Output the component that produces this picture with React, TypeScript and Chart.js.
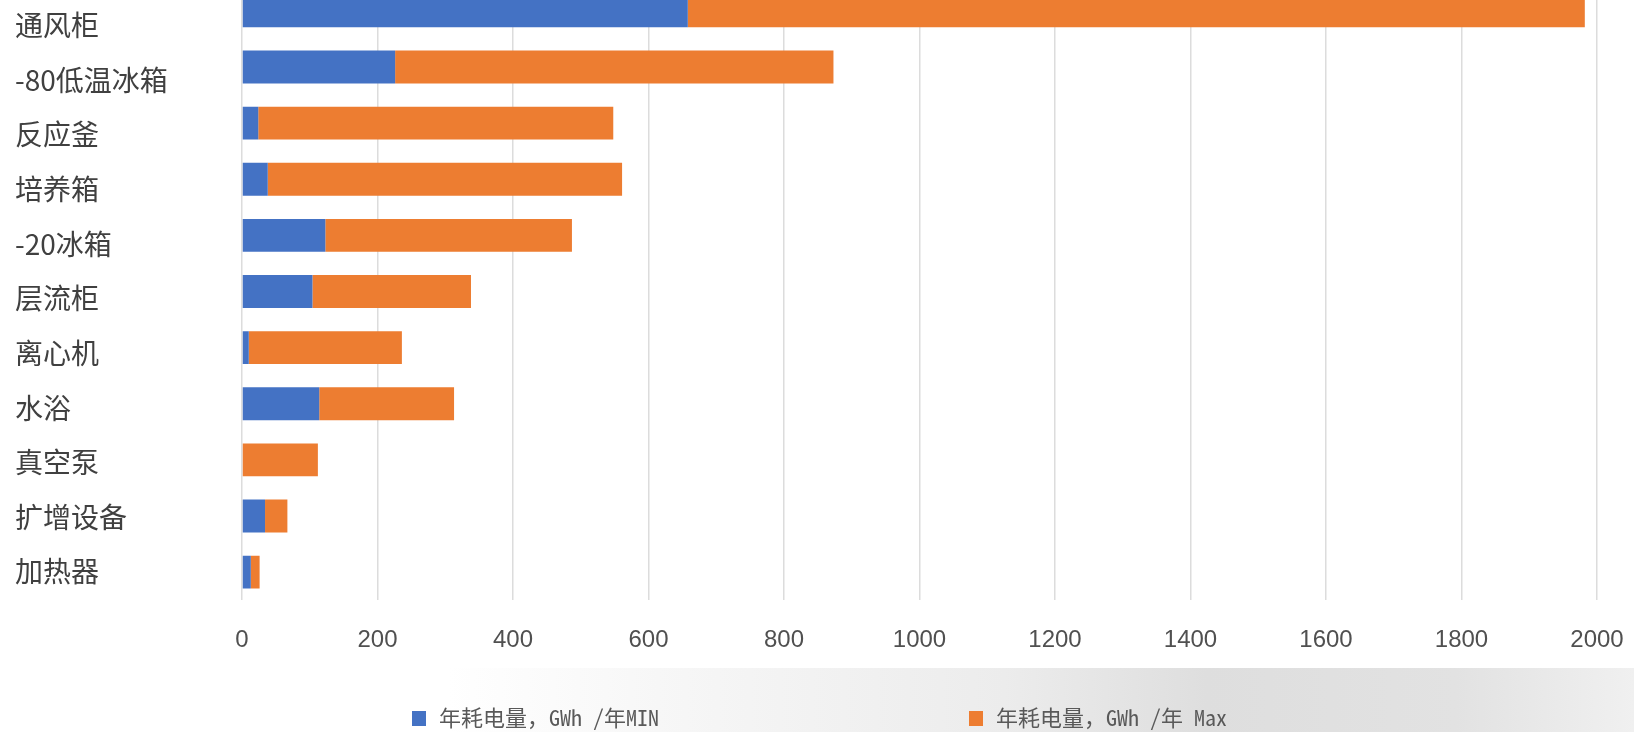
import React, { useEffect, useRef } from "react";
import { Chart, registerables } from "chart.js";

Chart.register(...registerables);

const categories = ["通风柜", "-80低温冰箱", "反应釜", "培养箱", "-20冰箱", "层流柜", "离心机", "水浴", "真空泵", "扩增设备", "加热器"];
const minValues = [658, 226, 24, 38, 123, 104, 10, 114, 0, 34, 13];
const maxValues = [1324, 647, 524, 523, 364, 234, 226, 199, 112, 33, 13];
const seriesLabels = ["年耗电量，GWh /年MIN", "年耗电量，GWh /年 Max"];
const seriesColors = ["#4472C4", "#ED7D31"];
const xMin = 0;
const xMax = 2000;
const xStep = 200;

const CANVAS_TOP = -34;
const CANVAS_HEIGHT = 791;

const legendPlugin = {
  id: "customLegend",
  afterDraw(chart: any) {
    const ctx = chart.ctx;
    const xs = [412, 969];
    const y = 718 - CANVAS_TOP;
    ctx.save();
    chart.data.datasets.forEach((ds: any, i: number) => {
      ctx.fillStyle = ds.backgroundColor;
      ctx.fillRect(xs[i], y - 7, 14, 15);
      ctx.fillStyle = "#595959";
      ctx.font = "22px 'Noto Sans Mono CJK SC', 'DejaVu Sans Mono', monospace";
      ctx.textBaseline = "middle";
      ctx.textAlign = "left";
      ctx.fillText(ds.label, xs[i] + 27, y);
    });
    ctx.restore();
  },
};

export default function App() {
  const ref = useRef<HTMLCanvasElement>(null);
  useEffect(() => {
    if (!ref.current) return;
    const chart = new Chart(ref.current, {
      type: "bar",
      data: {
        labels: categories,
        datasets: [
          { label: seriesLabels[0], data: minValues, backgroundColor: seriesColors[0] },
          { label: seriesLabels[1], data: maxValues, backgroundColor: seriesColors[1] },
        ],
      },
      options: {
        indexAxis: "y",
        animation: false,
        responsive: false,
        maintainAspectRatio: false,
        layout: { padding: { left: 15, right: 0, top: 0, bottom: 76 } },
        datasets: { bar: { categoryPercentage: 1, barPercentage: 0.587 } },
        plugins: { legend: { display: false }, tooltip: { enabled: false } },
        scales: {
          x: {
            stacked: true,
            min: xMin,
            max: xMax,
            ticks: {
              stepSize: xStep,
              padding: 26,
              color: "#505050",
              callback: (v: any) => String(v),
              font: { family: "'Liberation Sans', sans-serif", size: 24 },
            },
            grid: { color: "#dcdcdc", lineWidth: 1.5, drawTicks: false },
            border: { display: false },
            afterFit: (s: any) => {
              s.paddingRight = 37;
              s.paddingLeft = 0;
            },
          },
          y: {
            stacked: true,
            display: false,
          },
          yl: {
            type: "linear",
            position: "left",
            reverse: true,
            offset: false,
            min: -0.78,
            max: 10.52,
            afterBuildTicks: (s: any) => {
              s.ticks = categories.map((_, i) => ({ value: i }));
            },
            ticks: {
              crossAlign: "far",
              padding: 0,
              color: "#404040",
              callback: (v: any) => categories[v],
              font: { family: "'Noto Sans CJK SC', sans-serif", size: 28 },
            },
            grid: { display: false, drawTicks: false, offset: false },
            border: { display: false },
            afterFit: (s: any) => {
              s.width = 227;
            },
          },
        },
      } as any,
      plugins: [legendPlugin],
    });
    return () => chart.destroy();
  }, []);

  return (
    <div style={{ position: "fixed", left: 0, top: 0, width: 1634, height: 732, overflow: "hidden", background: "#ffffff" }}>
      <div
        style={{
          position: "absolute",
          left: 447,
          top: 668,
          right: 0,
          bottom: 0,
          background:
            "linear-gradient(to right, #ffffff 0%, #f6f6f6 20%, #ececec 47%, #dedede 64%, #e2e2e2 85%, #f0f0f0 100%)",
        }}
      />
      <canvas
        ref={ref}
        width={1634}
        height={CANVAS_HEIGHT}
        style={{ position: "absolute", left: 0, top: CANVAS_TOP }}
      />
    </div>
  );
}
